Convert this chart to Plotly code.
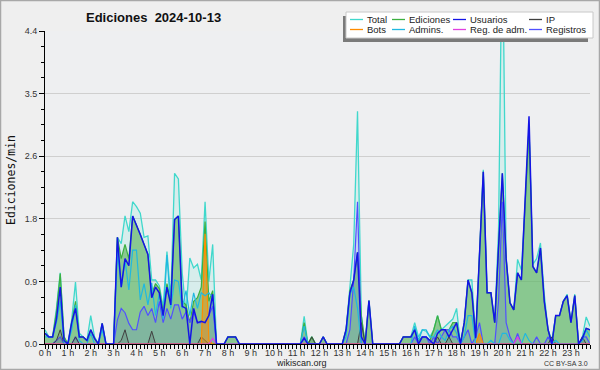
import plotly.graph_objects as go

# ---- data: one value every 10 minutes (6 per hour, 24 hours) ----
hours = [f"{h} h" for h in range(24)]

total = [
    0.20, 0.10, 0.10, 0.50, 1.00, 0.10,
    0.00, 0.34, 0.87, 0.15, 0.10, 0.05,
    0.40, 0.10, 0.00, 0.29, 0.00, 0.00,
    0.00, 1.50, 1.41, 1.80, 1.58, 2.00,
    1.93, 1.84, 1.50, 1.52, 0.90, 0.90,
    0.82, 0.52, 1.30, 0.65, 2.40, 2.32,
    1.00, 0.44, 1.21, 1.07, 1.12, 0.90,
    2.00, 0.88, 1.40, 0.00, 0.00, 0.00,
    0.10, 0.10, 0.10, 0.00, 0.00, 0.00,
    0.00, 0.00, 0.00, 0.00, 0.00, 0.00,
    0.00, 0.00, 0.00, 0.00, 0.00, 0.00,
    0.00, 0.00, 0.39, 0.00, 0.10, 0.00,
    0.00, 0.10, 0.00, 0.00, 0.00, 0.00,
    0.00, 0.20, 0.79, 1.40, 3.27, 0.40,
    0.00, 0.61, 0.00, 0.00, 0.00, 0.00,
    0.00, 0.00, 0.00, 0.00, 0.10, 0.10,
    0.10, 0.30, 0.10, 0.20, 0.18, 0.10,
    0.20, 0.40, 0.20, 0.25, 0.30, 0.35,
    0.50, 0.00, 0.30, 0.90, 0.90, 0.10,
    1.25, 2.45, 0.72, 0.72, 0.30, 1.60,
    6.00, 1.20, 0.58, 0.48, 1.19, 1.04,
    2.00, 3.05, 1.12, 1.20, 1.42, 0.70,
    0.20, 0.05, 0.40, 0.40, 0.60, 0.70,
    0.30, 0.70, 0.00, 0.10, 0.38, 0.25,
]

ediciones = [
    0.15, 0.10, 0.10, 0.45, 0.99, 0.10,
    0.00, 0.30, 0.60, 0.10, 0.10, 0.05,
    0.20, 0.08, 0.00, 0.29, 0.00, 0.00,
    0.00, 1.50, 1.20, 1.40, 1.20, 1.80,
    1.68, 1.54, 1.40, 1.26, 0.70, 0.85,
    0.78, 0.45, 0.85, 0.60, 1.75, 1.80,
    0.60, 0.55, 0.30, 0.60, 0.65, 0.80,
    1.72, 0.60, 0.75, 0.00, 0.00, 0.00,
    0.10, 0.10, 0.10, 0.00, 0.00, 0.00,
    0.00, 0.00, 0.00, 0.00, 0.00, 0.00,
    0.00, 0.00, 0.00, 0.00, 0.00, 0.00,
    0.00, 0.00, 0.30, 0.00, 0.10, 0.00,
    0.00, 0.10, 0.00, 0.00, 0.00, 0.00,
    0.00, 0.20, 0.75, 0.90, 1.29, 0.40,
    0.00, 0.61, 0.00, 0.00, 0.00, 0.00,
    0.00, 0.00, 0.00, 0.00, 0.10, 0.10,
    0.10, 0.20, 0.05, 0.10, 0.10, 0.05,
    0.20, 0.40, 0.20, 0.20, 0.20, 0.30,
    0.30, 0.00, 0.30, 0.90, 0.72, 0.10,
    1.25, 2.42, 0.72, 0.72, 0.30, 1.30,
    2.40, 1.20, 0.58, 0.48, 1.00, 0.90,
    2.00, 3.05, 1.09, 1.00, 1.35, 0.60,
    0.20, 0.00, 0.40, 0.40, 0.60, 0.68,
    0.30, 0.68, 0.00, 0.08, 0.22, 0.20,
]

usuarios = [
    0.15, 0.10, 0.10, 0.35, 0.80, 0.05,
    0.00, 0.30, 0.50, 0.10, 0.10, 0.05,
    0.20, 0.08, 0.00, 0.29, 0.00, 0.00,
    0.00, 1.50, 0.80, 1.20, 1.10, 1.80,
    1.68, 1.54, 1.40, 1.26, 0.65, 0.80,
    0.72, 0.40, 0.80, 0.55, 1.75, 1.80,
    0.53, 0.50, 0.00, 0.50, 0.30, 0.32,
    0.30, 0.40, 0.70, 0.00, 0.00, 0.00,
    0.10, 0.10, 0.10, 0.00, 0.00, 0.00,
    0.00, 0.00, 0.00, 0.00, 0.00, 0.00,
    0.00, 0.00, 0.00, 0.00, 0.00, 0.00,
    0.00, 0.00, 0.08, 0.00, 0.00, 0.00,
    0.00, 0.10, 0.00, 0.00, 0.00, 0.00,
    0.00, 0.20, 0.72, 0.90, 1.29, 0.10,
    0.00, 0.61, 0.00, 0.00, 0.00, 0.00,
    0.00, 0.00, 0.00, 0.00, 0.10, 0.10,
    0.10, 0.20, 0.00, 0.10, 0.10, 0.05,
    0.00, 0.15, 0.20, 0.20, 0.10, 0.20,
    0.30, 0.00, 0.30, 0.90, 0.72, 0.08,
    1.25, 2.42, 0.72, 0.72, 0.30, 1.30,
    2.40, 1.20, 0.58, 0.48, 1.00, 0.90,
    2.00, 3.20, 1.09, 1.00, 1.35, 0.60,
    0.20, 0.00, 0.40, 0.40, 0.60, 0.68,
    0.30, 0.68, 0.00, 0.08, 0.22, 0.20,
]

ip = [
    0, 0, 0, 0.05, 0.20, 0,
    0, 0, 0.10, 0, 0, 0,
    0, 0, 0, 0, 0, 0,
    0, 0, 0.05, 0.20, 0, 0,
    0, 0, 0, 0, 0.18, 0,
    0, 0, 0, 0, 0, 0,
    0, 0, 0, 0, 0, 0.10,
    0.05, 0, 0, 0, 0, 0,
    0, 0, 0, 0, 0, 0,
    0, 0, 0, 0, 0, 0,
    0, 0, 0, 0, 0, 0,
    0, 0, 0, 0, 0.10, 0,
    0, 0, 0, 0, 0, 0,
    0, 0, 0, 0, 0, 0.30,
    0, 0, 0, 0, 0, 0,
    0, 0, 0, 0, 0, 0,
    0, 0, 0, 0, 0, 0,
    0, 0.10, 0, 0, 0.10, 0,
    0, 0, 0, 0, 0, 0,
    0, 0, 0, 0, 0, 0,
    0, 0, 0, 0, 0, 0,
    0, 0, 0, 0, 0, 0,
    0, 0.10, 0, 0, 0, 0,
    0, 0, 0, 0.10, 0, 0,
]

bots = [0] * 42 + [1.55, 0.05] + [0] * 70 + [0.15] + [0] * 29

reg_adm = [0] * 44 + [0.08] + [0] * 79 + [0.10] + [0] * 19

admins = [
    0.10, 0.10, 0.10, 0.30, 0.60, 0,
    0, 0.20, 0.55, 0.05, 0, 0,
    0.15, 0, 0, 0.20, 0, 0,
    0, 1.30, 0.80, 1.18, 0.76, 1.32,
    1.32, 0.62, 0.85, 0.55, 0.86, 0.40,
    0.72, 0.35, 1.25, 0.50, 0.90, 0.88,
    0.50, 0.75, 0.40, 0.72, 0.50, 0.72,
    0.68, 0.72, 0.65, 0, 0, 0,
    0, 0, 0, 0, 0, 0,
    0, 0, 0, 0, 0, 0,
    0, 0, 0, 0, 0, 0,
    0, 0, 0.25, 0, 0, 0,
    0, 0, 0, 0, 0, 0,
    0, 0.10, 0.70, 0.80, 0.50, 0,
    0, 0, 0, 0, 0, 0,
    0, 0, 0, 0, 0, 0,
    0, 0.25, 0.05, 0.20, 0.20, 0.10,
    0.10, 0.20, 0.10, 0.05, 0.20, 0.25,
    0.15, 0, 0.10, 0.40, 0.40, 0,
    0, 0, 0, 0.05, 0, 0,
    0.15, 0.15, 0.05, 0, 0, 0,
    0.15, 0.05, 0, 0, 0, 0,
    0, 0, 0.05, 0, 0, 0,
    0, 0, 0, 0.05, 0.20, 0.10,
]

registros = [
    0, 0, 0, 0.05, 0.10, 0,
    0, 0, 0.10, 0, 0, 0,
    0, 0, 0, 0, 0, 0,
    0, 0.34, 0.50, 0.44, 0.29, 0.20,
    0.20, 0.45, 0.53, 0.40, 0.50, 0.30,
    0.60, 0.30, 0.50, 0.35, 0.55, 0.55,
    0.35, 0.45, 0.30, 0.45, 0.30, 0.30,
    0.30, 0.40, 0.53, 0, 0, 0,
    0, 0, 0, 0, 0, 0,
    0, 0, 0, 0, 0, 0,
    0, 0, 0, 0, 0, 0,
    0, 0, 0.10, 0, 0, 0,
    0, 0, 0, 0, 0, 0,
    0, 0, 0.20, 0.90, 2.00, 0,
    0, 0, 0, 0, 0, 0,
    0, 0, 0, 0, 0, 0,
    0, 0.10, 0, 0.10, 0.10, 0,
    0.10, 0, 0.10, 0.20, 0.20, 0.10,
    0.10, 0, 0.10, 0.20, 0, 0.10,
    0.30, 0, 0, 0, 0, 0.60,
    2.00, 0.30, 0.10, 0, 0.15, 0,
    0, 0, 0, 0.10, 0, 0,
    0.10, 0, 0, 0, 0, 0,
    0, 0, 0, 0.10, 0.10, 0,
]

y_tickvals = [0, 0.88, 1.76, 2.64, 3.52, 4.4]
y_ticktext = ["0.0", "0.9", "1.8", "2.6", "3.5", "4.4"]

x = [i / 6 for i in range(len(total))]

# ---- styling ----
FONT = "Liberation Sans, Arial, sans-serif"
C_TOTAL = "#40d8cc"
C_EDIC = "#3cb040"
C_USU = "#1414e6"
C_IP = "#404040"
C_BOTS = "#ff8c00"
C_ADM = "#20b8e0"
C_REGADM = "#e040e0"
C_REG = "#5050ff"

fig = go.Figure()

def add(y, name, color, width=1.2, fill=None):
    kw = dict(x=x, y=y, name=name, mode="lines",
              line=dict(color=color, width=width, shape="linear"),
              showlegend=False, hoverinfo="skip")
    if fill:
        kw.update(fill="tozeroy", fillcolor=fill)
    fig.add_trace(go.Scatter(**kw))

add(total, "Total", C_TOTAL, 1.3, "rgba(64,224,208,0.13)")
add(ediciones, "Ediciones", C_EDIC, 1.2, "rgba(96,180,96,0.65)")
add(registros, "Registros", C_REG, 1.2, "rgba(80,80,255,0.14)")
add(ip, "IP", C_IP, 1.0, "rgba(64,64,64,0.15)")
add(bots, "Bots", C_BOTS, 1.2, "rgba(255,140,0,0.5)")
add(admins, "Admins.", C_ADM, 1.2)
add(reg_adm, "Reg. de adm.", C_REGADM, 1.2)
add(usuarios, "Usuarios", C_USU, 1.5)

L, T, W, H = 45, 31, 545, 313

def px(v):
    return (v - L) / W

def py(v):
    return 1 - (v - T) / H

shapes = [
    # outer border
    dict(type="rect", xref="paper", yref="paper", x0=px(0.5), x1=px(599.5),
         y0=py(0.5), y1=py(369.5), line=dict(color="#a8a8a8", width=1.5),
         layer="below"),
    # legend shadow
    dict(type="rect", xref="paper", yref="paper", x0=px(343), x1=px(588),
         y0=py(16), y1=py(42), fillcolor="#7a7a7a", line=dict(width=0)),
    # legend box
    dict(type="rect", xref="paper", yref="paper", x0=px(346), x1=px(593),
         y0=py(12), y1=py(38), fillcolor="#ffffff",
         line=dict(color="#c8c8c8", width=1)),
]

annotations = [
    dict(text="<b>Ediciones  2024-10-13</b>", x=px(153), y=py(17),
         xref="paper", yref="paper", showarrow=False, xanchor="center",
         yanchor="middle", font=dict(family=FONT, size=13, color="#111")),
    dict(text="Ediciones/min", x=px(11), y=py(180), xref="paper",
         yref="paper", showarrow=False, textangle=-90, xanchor="center",
         yanchor="middle",
         font=dict(family="DejaVu Sans Mono, monospace", size=11.5,
                   color="#111")),
    dict(text="wikiscan.org", x=px(301), y=py(363), xref="paper",
         yref="paper", showarrow=False, xanchor="center", yanchor="middle",
         font=dict(family=FONT, size=9, color="#222")),
    dict(text="CC BY-SA 3.0", x=px(590), y=py(363), xref="paper",
         yref="paper", showarrow=False, xanchor="right", yanchor="middle",
         font=dict(family=FONT, size=7, color="#333")),
]

legend_items = [
    ("Total", C_TOTAL), ("Ediciones", C_EDIC), ("Usuarios", C_USU),
    ("IP", C_IP), ("Bots", C_BOTS), ("Admins.", C_ADM),
    ("Reg. de adm.", C_REGADM), ("Registros", C_REG),
]
col_line_x = [350, 392, 453, 529]
row_y = [19.5, 29.5]
for i, (name, color) in enumerate(legend_items):
    r, c = divmod(i, 4)
    x0 = col_line_x[c]
    yy = row_y[r]
    shapes.append(dict(type="line", xref="paper", yref="paper",
                       x0=px(x0), x1=px(x0 + 13), y0=py(yy), y1=py(yy),
                       line=dict(color=color, width=1.3)))
    annotations.append(dict(text=name, x=px(x0 + 15), y=py(yy),
                            xref="paper", yref="paper", showarrow=False,
                            xanchor="left", yanchor="middle",
                            font=dict(family=FONT, size=9.5, color="#222")))

fig.update_layout(
    width=600, height=370,
    margin=dict(l=L, r=600 - L - W, t=T, b=370 - T - H, pad=0),
    paper_bgcolor="#efefef",
    plot_bgcolor="#eeeff1",
    showlegend=False,
    shapes=shapes,
    annotations=annotations,
    xaxis=dict(
        range=[0, 23 + 5 / 6],
        tickvals=list(range(24)), ticktext=hours,
        ticks="outside", ticklen=4, tickwidth=1, tickcolor="#000",
        ticklabelstandoff=-4,
        minor=dict(dtick=1 / 6, tick0=0, ticks="outside", ticklen=4,
                   tickcolor="#000", showgrid=False),
        showline=True, linecolor="#000", linewidth=1,
        showgrid=False, zeroline=False,
        tickfont=dict(family=FONT, size=9, color="#333"),
        fixedrange=True,
    ),
    yaxis=dict(
        range=[0, 4.4],
        tickvals=y_tickvals, ticktext=y_ticktext,
        ticks="outside", ticklen=5, tickwidth=1, tickcolor="#000",
        minor=dict(dtick=0.22, tick0=0, ticks="outside", ticklen=3,
                   tickcolor="#000", showgrid=False),
        showline=True, linecolor="#000", linewidth=1,
        showgrid=True, gridcolor="#cfcfcf", gridwidth=1,
        zeroline=False,
        tickfont=dict(family=FONT, size=9, color="#333"),
        fixedrange=True,
    ),
)

fig.write_html(
    "out.html",
    config={"displayModeBar": False},
    post_script="document.body.style.margin='0';"
                "document.body.style.overflow='hidden';",
)
